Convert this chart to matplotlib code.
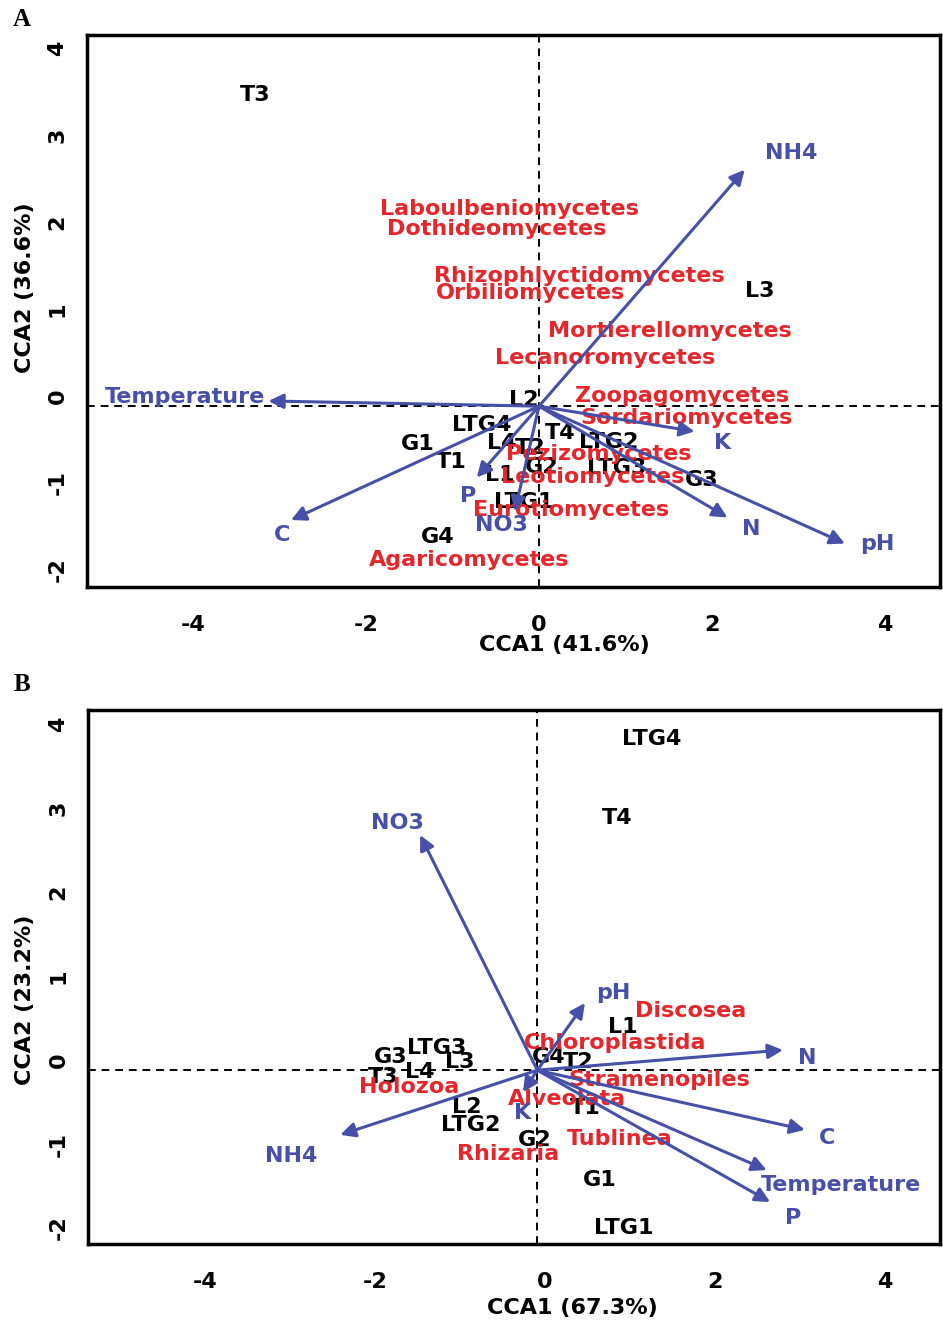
from matplotlib import pyplot as plt

# R style hyphen minus on the tick labels
plt.rcParams['axes.unicode_minus'] = False

# colours
RED = '#E5262B'
BLUE = '#4650A8'

# ---------------- Panel A (fungi) ----------------
A_sites = ['T3', 'L3', 'L2', 'LTG4', 'G1', 'T1', 'L4', 'T2', 'T4', 'LTG2',
           'G2', 'L1', 'LTG3', 'G3', 'LTG1', 'G4']
A_site_x = [-3.28, 2.55, -0.18, -0.66, -1.40, -1.01, -0.43, -0.10, 0.25, 0.81,
            0.03, -0.45, 0.90, 1.88, -0.18, -1.17]
A_site_y = [3.46, 1.21, -0.05, -0.34, -0.56, -0.76, -0.54, -0.60, -0.43, -0.53,
            -0.82, -0.91, -0.83, -0.97, -1.22, -1.62]

A_taxa = ['Laboulbeniomycetes', 'Dothideomycetes', 'Rhizophlyctidomycetes',
          'Orbiliomycetes', 'Mortierellomycetes', 'Lecanoromycetes',
          'Zoopagomycetes', 'Sordariomycetes', 'Pezizomycetes',
          'Leotiomycetes', 'Eurotiomycetes', 'Agaricomycetes']
A_taxa_x = [-0.34, -0.49, 0.47, -0.10, 1.51, 0.77, 1.65, 1.71, 0.69, 0.62, 0.37, -0.81]
A_taxa_y = [2.15, 1.92, 1.38, 1.18, 0.74, 0.43, 0.00, -0.26, -0.67, -0.94, -1.31, -1.89]

A_env = ['NH4', 'Temperature', 'K', 'N', 'pH', 'C', 'P', 'NO3']
A_env_x = [2.38, -3.13, 1.80, 2.18, 3.54, -2.87, -0.72, -0.28]
A_env_y = [2.60, -0.06, -0.41, -1.40, -1.70, -1.43, -0.94, -1.33]
A_env_lx = [2.92, -4.10, 2.12, 2.46, 3.91, -2.97, -0.82, -0.44]
A_env_ly = [2.79, -0.01, -0.54, -1.53, -1.71, -1.60, -1.15, -1.49]
A_origin = (0.0, -0.12)

# ---------------- Panel B (protists) ----------------
B_sites = ['LTG4', 'T4', 'L1', 'G4', 'T2', 'G3', 'LTG3', 'L3', 'T3', 'L4',
           'L2', 'LTG2', 'G2', 'T1', 'G1', 'LTG1']
B_site_x = [1.26, 0.85, 0.92, 0.04, 0.39, -1.82, -1.27, -1.00, -1.91, -1.47,
            -0.92, -0.88, -0.12, 0.47, 0.64, 0.93]
B_site_y = [3.83, 2.88, 0.39, 0.04, -0.02, 0.04, 0.15, -0.02, -0.20, -0.14,
            -0.56, -0.77, -0.95, -0.57, -1.43, -2.00]

B_taxa = ['Discosea', 'Chloroplastida', 'Stramenopiles', 'Holozoa',
          'Alveolata', 'Tublinea', 'Rhizaria']
B_taxa_x = [1.72, 0.82, 1.34, -1.60, 0.26, 0.88, -0.44]
B_taxa_y = [0.58, 0.20, -0.24, -0.32, -0.46, -0.94, -1.12]

B_env = ['NO3', 'pH', 'N', 'C', 'Temperature', 'P', 'NH4', 'K']
B_env_x = [-1.47, 0.47, 2.80, 3.06, 2.61, 2.65, -2.41, -0.26]
B_env_y = [2.68, 0.68, 0.12, -0.83, -1.31, -1.69, -0.89, -0.38]
B_env_lx = [-1.74, 0.81, 3.09, 3.32, 3.49, 2.92, -2.99, -0.27]
B_env_ly = [2.83, 0.80, 0.02, -0.93, -1.49, -1.88, -1.14, -0.63]
B_origin = (-0.09, -0.12)

FS = 16


def drawPanel(ax, sites, sx, sy, taxa, tx, ty, env, ex, ey, elx, ely, origin,
              xlim, ylim, xlabel, ylabel, xlab_pos, ylab_pos):
    """Draws one CCA biplot panel."""

    ax.set_xlim(*xlim)
    ax.set_ylim(*ylim)

    # dashed cross through the origin
    ax.axvline(origin[0], color='black', lw=1.4, ls=(0, (4, 3)), zorder=1)
    ax.axhline(origin[1], color='black', lw=1.4, ls=(0, (4, 3)), zorder=1)

    # site scores
    for lab, x, y in zip(sites, sx, sy):
        ax.text(x, y, lab, color='black', fontsize=FS, fontweight='bold',
                ha='center', va='center', zorder=3)

    # taxa scores
    for lab, x, y in zip(taxa, tx, ty):
        ax.text(x, y, lab, color=RED, fontsize=FS, fontweight='bold',
                ha='center', va='center', zorder=4)

    # environmental arrows
    for lab, x, y, lx, ly in zip(env, ex, ey, elx, ely):
        ax.annotate('', xy=(x, y), xytext=origin,
                    arrowprops=dict(arrowstyle='-|>', color=BLUE, lw=2.2,
                                    mutation_scale=22, shrinkA=0, shrinkB=0),
                    zorder=5)
        ax.text(lx, ly, lab, color=BLUE, fontsize=FS, fontweight='bold',
                ha='center', va='center', zorder=6)

    ax.set_xticks([-4, -2, 0, 2, 4])
    ax.set_yticks([-2, -1, 0, 1, 2, 3, 4])
    ax.tick_params(length=0, labelsize=FS)
    ax.tick_params(axis='x', pad=20)
    ax.tick_params(axis='y', pad=14)
    for t in ax.get_xticklabels() + ax.get_yticklabels():
        t.set_fontweight('bold')
    for t in ax.get_yticklabels():
        t.set_rotation(90)
        t.set_va('center')

    for s in ax.spines.values():
        s.set_linewidth(2.5)

    ax.set_xlabel(xlabel, fontsize=FS, fontweight='bold')
    ax.xaxis.set_label_coords(*xlab_pos)
    ax.xaxis.label.set_va('center')
    ax.set_ylabel(ylabel, fontsize=FS, fontweight='bold')
    ax.yaxis.set_label_coords(*ylab_pos)
    ax.yaxis.label.set_va('center')


W, H = 943, 1322
fig = plt.figure(figsize=(W / 100, H / 100), dpi=100)

axA = fig.add_axes([87 / W, 1 - 587 / H, 853 / W, 552 / H])
drawPanel(axA, A_sites, A_site_x, A_site_y, A_taxa, A_taxa_x, A_taxa_y,
          A_env, A_env_x, A_env_y, A_env_lx, A_env_ly, A_origin,
          (-5.23, 4.64), (-2.20, 4.15), 'CCA1 (41.6%)', 'CCA2 (36.6%)',
          (0.560, -0.105), (-0.073, 0.543))

axB = fig.add_axes([88 / W, 1 - 1244 / H, 852 / W, 534 / H])
drawPanel(axB, B_sites, B_site_x, B_site_y, B_taxa, B_taxa_x, B_taxa_y,
          B_env, B_env_x, B_env_y, B_env_lx, B_env_ly, B_origin,
          (-5.38, 4.65), (-2.19, 4.17), 'CCA1 (67.3%)', 'CCA2 (23.2%)',
          (0.569, -0.12), (-0.074, 0.457))

# panel letters
fig.text(22 / W, 1 - 20 / H, 'A', fontfamily='Liberation Serif', fontweight='bold',
         fontsize=18, ha='center', va='center')
fig.text(22 / W, 1 - 685 / H, 'B', fontfamily='Liberation Serif', fontweight='bold',
         fontsize=18, ha='center', va='center')

fig.savefig('out.png', dpi=100)
